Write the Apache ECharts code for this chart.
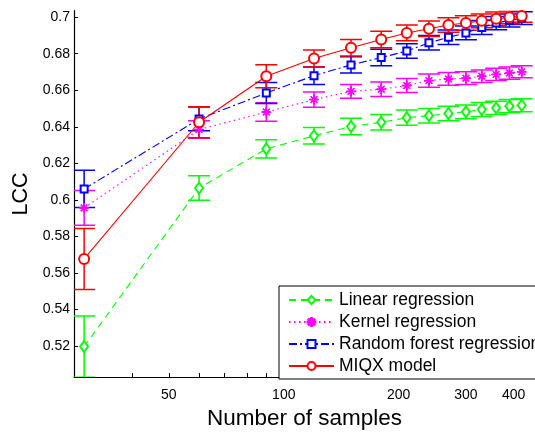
<!DOCTYPE html>
<html>
<head>
<meta charset="utf-8">
<script src="https://cdn.jsdelivr.net/npm/echarts@6/dist/echarts.min.js"></script>
<style>html,body{margin:0;padding:0;background:#fff}#c{width:535px;height:435px}</style>
</head>
<body>
<div id="c"></div>
<script>
const sampleCounts = [30, 60, 90, 120, 150, 180, 210, 240, 270, 300, 330, 360, 390, 420];
const xTickValues = [40, 50, 60, 70, 80, 90, 100, 200, 300, 400];
const xLabelValues = [50, 100, 200, 300, 400];
const yTickValues = [0.52, 0.54, 0.56, 0.58, 0.6, 0.62, 0.64, 0.66, 0.68, 0.7];

const linearName = 'Linear regression';
const linearVals = [0.5197, 0.6065, 0.6279, 0.6351, 0.6402, 0.6425, 0.6450, 0.6461, 0.6473, 0.6482, 0.6495, 0.6504, 0.6513, 0.6518];
const linearErr  = [0.0167, 0.0067, 0.0050, 0.0045, 0.0045, 0.0042, 0.0042, 0.0040, 0.0040, 0.0038, 0.0038, 0.0036, 0.0036, 0.0035];

const kernelName = 'Kernel regression';
const kernelVals = [0.5956, 0.6385, 0.6481, 0.6549, 0.6594, 0.6606, 0.6626, 0.6653, 0.6662, 0.6666, 0.6677, 0.6687, 0.6694, 0.6701];
const kernelErr  = [0.0095, 0.0048, 0.0051, 0.0042, 0.0038, 0.0040, 0.0038, 0.0036, 0.0035, 0.0035, 0.0034, 0.0034, 0.0033, 0.0033];

const forestName = 'Random forest regression';
const forestVals = [0.6060, 0.6443, 0.6585, 0.6680, 0.6739, 0.6779, 0.6815, 0.6860, 0.6890, 0.6914, 0.6944, 0.6968, 0.6982, 0.6995];
const forestErr  = [0.0102, 0.0065, 0.0058, 0.0048, 0.0045, 0.0045, 0.0040, 0.0040, 0.0040, 0.0038, 0.0038, 0.0036, 0.0036, 0.0035];

const miqxName = 'MIQX model';
const miqxVals = [0.5677, 0.6425, 0.6677, 0.6774, 0.6833, 0.6878, 0.6914, 0.6937, 0.6957, 0.6968, 0.6980, 0.6991, 0.7000, 0.7007];
const miqxErr  = [0.0167, 0.0085, 0.0063, 0.0047, 0.0045, 0.0045, 0.0043, 0.0042, 0.0040, 0.0040, 0.0038, 0.0037, 0.0036, 0.0035];

const FONT = '"Liberation Sans", Arial, Helvetica, sans-serif';
const GREEN = '#00ff00', MAGENTA = '#ff00ff', BLUE = '#0000ff', RED = '#ff0000';
const ASTERISK = 'path://M-0.5,-5h1v10h-1z M-5,-0.5h10v1h-10z M-3.15,-3.85L3.85,3.15L3.15,3.85L-3.85,-3.15z M3.15,-3.85L3.85,-3.15L-3.15,3.85L-3.85,3.15z';

function pairs(vals) { return sampleCounts.map((n, i) => [n, vals[i]]); }

function errSeries(vals, errs, color) {
  return {
    type: 'custom',
    silent: true,
    clip: true,
    z: 2,
    data: sampleCounts.map((n, i) => [n, vals[i] - errs[i], vals[i] + errs[i]]),
    encode: { x: 0, y: [1, 2] },
    renderItem: function (params, api) {
      const x = api.value(0);
      const lo = api.coord([x, api.value(1)]);
      const hi = api.coord([x, api.value(2)]);
      const w = 11;
      const st = { stroke: color, lineWidth: 1.5 };
      return {
        type: 'group',
        children: [
          { type: 'line', shape: { x1: lo[0], y1: lo[1], x2: hi[0], y2: hi[1] }, style: st },
          { type: 'line', shape: { x1: lo[0] - w, y1: lo[1], x2: lo[0] + w, y2: lo[1] }, style: st },
          { type: 'line', shape: { x1: hi[0] - w, y1: hi[1], x2: hi[0] + w, y2: hi[1] }, style: st }
        ]
      };
    }
  };
}

function lineSeries(name, vals, color, dash, symbol, size) {
  return {
    type: 'line',
    name: name,
    data: pairs(vals),
    z: 3,
    symbol: symbol,
    symbolSize: size,
    symbolKeepAspect: true,
    showAllSymbol: true,
    lineStyle: { color: color, width: 1.1, type: dash },
    itemStyle: { color: color, borderColor: color, borderWidth: 1 }
  };
}

const chart = echarts.init(document.getElementById('c'), null, { renderer: 'canvas' });
chart.setOption({
  animation: false,
  backgroundColor: '#fff',
  grid: { left: 74, top: 10.7, width: 471, height: 372, containLabel: false },
  xAxis: {
    type: 'log',
    logBase: 10,
    min: 28.22,
    max: 455,
    name: 'Number of samples',
    nameLocation: 'middle',
    nameGap: 27,
    nameTextStyle: { fontSize: 22.5, color: '#000', fontFamily: FONT },
    axisLine: { lineStyle: { color: '#000', width: 1.2 } },
    axisTick: { inside: true, length: 4, lineStyle: { color: '#000' }, customValues: xTickValues },
    axisLabel: { margin: 11, fontSize: 14, color: '#000', fontFamily: FONT, customValues: xLabelValues },
    splitLine: { show: false },
    minorTick: { show: false }
  },
  yAxis: {
    type: 'value',
    min: 0.50302,
    max: 0.70356,
    name: 'LCC',
    nameLocation: 'middle',
    nameGap: 41,
    nameTextStyle: { fontSize: 21.5, color: '#000', fontFamily: FONT },
    axisLine: { show: true, lineStyle: { color: '#000', width: 1.2 } },
    axisTick: { show: true, inside: true, length: 4, lineStyle: { color: '#000' }, customValues: yTickValues },
    axisLabel: { margin: 4, fontSize: 14, color: '#000', fontFamily: FONT, customValues: yTickValues },
    splitLine: { show: false }
  },
  legend: {
    orient: 'vertical',
    left: 279,
    top: 286,
    data: [linearName, kernelName, forestName, miqxName],
    backgroundColor: '#fff',
    borderColor: '#000',
    borderWidth: 1,
    borderRadius: 0,
    padding: [5, 20, 4, 9],
    itemWidth: 45,
    itemHeight: 10,
    itemGap: 4,
    textStyle: { fontSize: 17.5, color: '#000', fontFamily: FONT },
    z: 10
  },
  series: [
    errSeries(linearVals, linearErr, GREEN),
    lineSeries(linearName, linearVals, GREEN, [7, 5], 'emptyDiamond', [8, 11]),
    errSeries(kernelVals, kernelErr, MAGENTA),
    lineSeries(kernelName, kernelVals, MAGENTA, [1.5, 3.5], ASTERISK, 9),
    errSeries(forestVals, forestErr, BLUE),
    lineSeries(forestName, forestVals, BLUE, [8, 3, 2, 3], 'emptyRect', 7),
    errSeries(miqxVals, miqxErr, RED),
    lineSeries(miqxName, miqxVals, RED, 'solid', 'emptyCircle', 10)
  ]
});
</script>
</body>
</html>
